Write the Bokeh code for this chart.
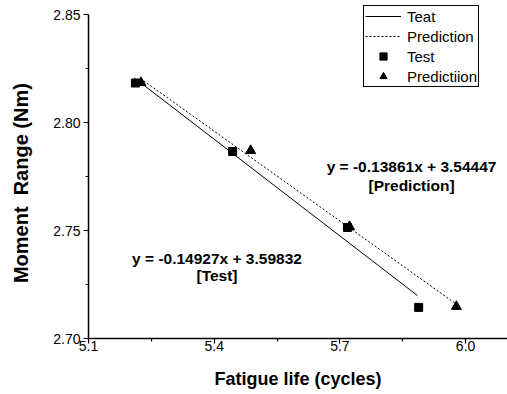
from bokeh.plotting import figure
from bokeh.models import Range1d, FixedTicker, Legend, LegendItem, Label
from bokeh.embed import file_html
from bokeh.resources import INLINE

# Data
test_x = [5.212, 5.444, 5.718, 5.888]
test_y = [2.8183, 2.7866, 2.7514, 2.7144]
pred_x = [5.225, 5.487, 5.723, 5.978]
pred_y = [2.8185, 2.7870, 2.7518, 2.7148]

# fitted lines (endpoints)
test_fit_x = [5.210, 5.885]
test_fit_y = [2.8206, 2.7199]
pred_fit_x = [5.224, 5.975]
pred_fit_y = [2.8204, 2.7163]

x_ticks = [5.1, 5.4, 5.7, 6.0]
x_minor = [5.25, 5.55, 5.85]
y_ticks = [2.70, 2.75, 2.80, 2.85]
y_minor = [2.725, 2.775, 2.825]

eq_pred = ["y = -0.13861x + 3.54447", "[Prediction]"]
eq_test = ["y = -0.14927x + 3.59832", "[Test]"]
y_title = "Moment \u00a0Range (Nm)"
x_title = "Fatigue life (cycles)"

FONT = "Liberation Sans"

# frame reaches slightly above 2.85 so the legend box fits inside it;
# the axis itself is bounded to 2.70-2.85
p = figure(width=507, height=394, output_backend="svg", toolbar_location=None,
           x_range=Range1d(5.1, 6.1), y_range=Range1d(2.70, 2.8542),
           min_border_left=88, min_border_right=0, min_border_top=5,
           min_border_bottom=56)
p.outline_line_color = None
p.grid.visible = False
p.background_fill_color = "white"
p.border_fill_color = "white"

for ax in (p.xaxis[0], p.yaxis[0]):
    ax.axis_line_width = 1.5
    ax.axis_line_color = "black"
    ax.major_tick_line_color = "black"
    ax.minor_tick_line_color = "black"
    ax.major_tick_line_width = 1.2
    ax.minor_tick_line_width = 1.2
    ax.major_tick_in = 0
    ax.major_tick_out = 5
    ax.minor_tick_in = 0
    ax.minor_tick_out = 3
    ax.major_label_text_font = FONT
    ax.major_label_text_font_size = "14px"
    ax.major_label_text_color = "black"
    ax.axis_label_text_font = FONT
    ax.axis_label_text_font_style = "bold"
    ax.axis_label_text_color = "black"

p.yaxis[0].bounds = (y_ticks[0], y_ticks[-1])
p.xaxis[0].ticker = FixedTicker(ticks=x_ticks, minor_ticks=x_minor)
p.yaxis[0].ticker = FixedTicker(ticks=y_ticks, minor_ticks=y_minor)
p.xaxis[0].major_label_overrides = {t: f"{t:.1f}" for t in x_ticks}
p.yaxis[0].major_label_overrides = {t: f"{t:.2f}" for t in y_ticks}
p.xaxis[0].axis_label = x_title
p.yaxis[0].axis_label = y_title + "\u00a0" * 4
p.xaxis[0].axis_label_text_font_size = "18px"
p.yaxis[0].axis_label_text_font_size = "20px"
p.xaxis[0].major_label_standoff = -3
p.yaxis[0].major_label_standoff = 3
p.xaxis[0].axis_label_standoff = 15
p.yaxis[0].axis_label_standoff = 18

r1 = p.line(test_fit_x, test_fit_y, line_color="black", line_width=1)
r2 = p.line(pred_fit_x, pred_fit_y, line_color="black", line_width=1, line_dash="2 2")
r3 = p.scatter(test_x, test_y, marker="square", size=8, fill_color="black", line_color="black")
r4 = p.scatter(pred_x, pred_y, marker="triangle", size=10, fill_color="black", line_color="black")

legend = Legend(items=[
    LegendItem(label="Teat", renderers=[r1]),
    LegendItem(label="Prediction", renderers=[r2]),
    LegendItem(label="Test", renderers=[r3]),
    LegendItem(label="Predictiion", renderers=[r4]),
], location=(275, 251))
legend.label_text_font = FONT
legend.label_text_font_size = "15px"
legend.label_text_color = "black"
legend.border_line_color = "black"
legend.border_line_alpha = 1.0
legend.border_line_width = 1
legend.background_fill_color = "white"
legend.background_fill_alpha = 1.0
legend.padding = 1
legend.margin = 0
legend.spacing = 2
legend.glyph_width = 36
legend.glyph_height = 18
legend.label_height = 18
legend.label_standoff = 6
p.add_layout(legend)

for (tx, ty, txt) in [(5.871, 2.7796, eq_pred[0]), (5.871, 2.7708, eq_pred[1]),
                      (5.4067, 2.7370, eq_test[0]), (5.4067, 2.7292, eq_test[1])]:
    p.add_layout(Label(x=tx, y=ty, text=txt, text_align="center", text_baseline="middle",
                       text_font=FONT, text_font_style="bold", text_font_size="15.5px",
                       text_color="black"))

open("out.html", "w").write(file_html(p, INLINE))
